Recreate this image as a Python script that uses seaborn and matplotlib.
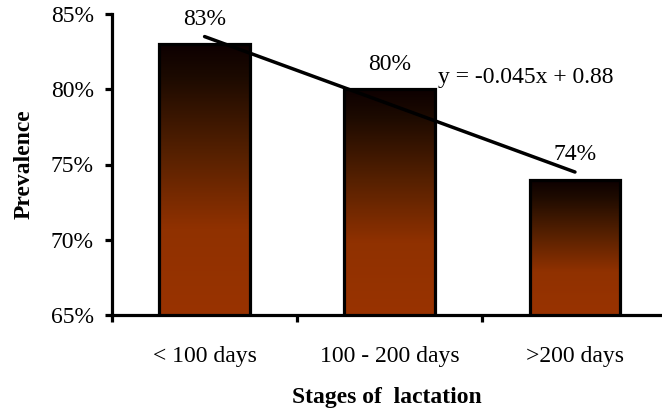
import numpy as np
import pandas as pd
import matplotlib
matplotlib.use("Agg")
import matplotlib.pyplot as plt
import seaborn as sns
from matplotlib.colors import LinearSegmentedColormap
from matplotlib.ticker import FuncFormatter

categories = ["< 100 days", "100 - 200 days", ">200 days"]
prevalence = [0.83, 0.80, 0.74]
value_labels = ["83%", "80%", "74%"]
y_ticks = [0.65, 0.70, 0.75, 0.80, 0.85]

sns.set_theme(style="white")
plt.rcParams['font.family'] = ['Liberation Serif', 'DejaVu Serif']
plt.rcParams.update({"text.color": "black", "axes.labelcolor": "black",
                     "xtick.color": "black", "ytick.color": "black"})

df = pd.DataFrame({"stage": categories, "prev": prevalence})

FS = 17

fig = plt.figure(figsize=(6.62, 4.13), dpi=100)
ax = fig.add_axes([112/662, 1 - 315/413, 550/662, 301/413])

sns.barplot(data=df, x="stage", y="prev", ax=ax, width=0.49,
            color="#993300", edgecolor="black", linewidth=2.3, zorder=2)

# gradient fill inside each bar
cmap = LinearSegmentedColormap.from_list(
    "g", [(0.0, "#0d0000"), (0.12, "#1c0a00"), (0.4, "#552000"),
          (0.68, "#903100"), (1.0, "#993300")])
grad = np.linspace(0, 1, 256).reshape(-1, 1)
for patch in ax.patches:
    x0, y0 = patch.get_x(), patch.get_y()
    w, h = patch.get_width(), patch.get_height()
    top = y0 + h
    patch.set_facecolor("none")
    im = ax.imshow(grad, cmap=cmap, aspect="auto",
                   extent=[x0, x0 + w, 0.65, top], origin="upper",
                   zorder=1.5, interpolation="bilinear")
    im.set_clip_path(patch)
ax.set_xlim(-0.5, 2.47)
ax.set_ylim(0.65, 0.85)

# trend line
xs = np.arange(1, len(prevalence) + 1)
slope, intercept = np.polyfit(xs, prevalence, 1)
ax.plot(np.arange(len(prevalence)), slope * xs + intercept,
        color="black", linewidth=2.5, zorder=3)
ax.text(1.26, 0.8075, f"y = {slope:.3f}x + {intercept:.2f}",
        fontsize=FS, ha="left", va="center", color="black", zorder=4)

# value labels
offsets = [0.0165, 0.0165, 0.0168]
for i, (v, lab) in enumerate(zip(prevalence, value_labels)):
    ax.text(i, v + offsets[i], lab, ha="center", va="center",
            fontsize=FS, color="black", zorder=4)

ax.set_yticks(y_ticks)
ax.yaxis.set_major_formatter(FuncFormatter(lambda v, p: f"{v*100:.0f}%"))
ax.set_xticks([-0.5, 0.5, 1.5], minor=True)
ax.tick_params(axis="x", which="major", length=0, labelsize=FS, pad=22,
               labelcolor="black")
ax.tick_params(axis="x", which="minor", length=5, width=2.3, direction="out",
               bottom=True, color="black")
ax.tick_params(axis="y", length=5, width=2.3, direction="out", left=True,
               labelsize=FS, color="black", labelcolor="black", pad=8)

for s in ["top", "right"]:
    ax.spines[s].set_visible(False)
for s in ["left", "bottom"]:
    ax.spines[s].set_linewidth(2.3)
    ax.spines[s].set_color("black")

ax.set_xlabel("Stages of  lactation", fontsize=FS, fontweight="bold",
              labelpad=15, color="black")
ax.set_ylabel("Prevalence", fontsize=FS, fontweight="bold", labelpad=12,
              color="black")
ax.grid(False)

fig.savefig("out.png", dpi=100)
